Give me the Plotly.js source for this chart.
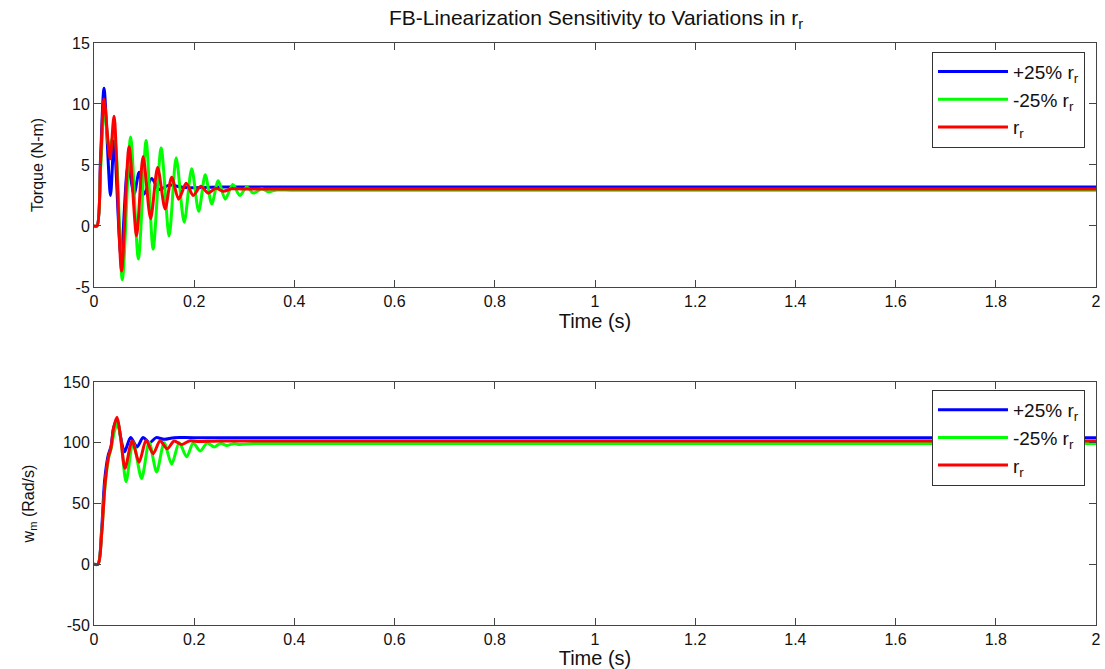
<!DOCTYPE html>
<html>
<head>
<meta charset="utf-8">
<script src="https://cdn.plot.ly/plotly-3.0.1.min.js"></script>
<style>
html,body{margin:0;padding:0;background:#fff;}
#chart{width:1105px;height:669px;}
</style>
</head>
<body>
<div id="chart"></div>
<script>
// ---- Torque (top panel) ----
var torquePlusT = [0,0.006,0.013,0.02,0.033,0.04,0.054,0.068,0.08,0.09,0.1,0.115,0.13,0.15,0.18,0.25,2];
var torquePlus  = [0,0,5.5,11.3,2.5,7,-2.5,5.0,2.6,4.4,2.6,3.9,3.0,3.35,3.15,3.2,3.2];

var torqueMinusT = [0,0.006,0.013,0.021,0.03,0.04,0.0565,0.073,0.0886,0.104,0.118,0.134,0.15,0.164,0.18,0.195,0.209,0.222,0.235,0.248,0.262,0.277,0.291,0.305,0.318,0.335,0.348,0.365,0.4,2];
var torqueMinus  = [0,0,4.5,9.8,6.5,7.5,-4.4,7.3,-2.7,7.0,-1.9,6.4,-0.8,5.6,0.3,4.7,1.2,4.2,1.8,3.7,2.2,3.4,2.5,3.2,2.7,3.05,2.8,2.95,2.92,2.92];

var torqueNomT = [0,0.006,0.013,0.02,0.032,0.04,0.055,0.07,0.085,0.098,0.113,0.127,0.142,0.155,0.169,0.184,0.198,0.213,0.228,0.243,0.258,0.275,0.3,2];
var torqueNom  = [0,0,5,10.4,5.5,9.0,-3.7,6.5,-0.8,5.7,0.6,4.8,1.4,4.0,2.2,3.5,2.5,3.25,2.7,3.1,2.85,3.05,3.03,3.03];

// ---- Speed (bottom panel) ----
var speedPlusT = [0,0.008,0.015,0.021,0.028,0.034,0.039,0.046,0.053,0.061,0.073,0.086,0.098,0.111,0.124,0.14,0.16,0.2,2];
var speedPlus  = [0,0,27,68,89,97,112,119,105,92.5,104.3,96.6,104.3,100,104.2,102.8,104.2,104.2,104.2];

var speedMinusT = [0,0.008,0.015,0.022,0.029,0.034,0.04,0.047,0.055,0.064,0.078,0.095,0.11,0.125,0.14,0.155,0.17,0.185,0.198,0.212,0.226,0.24,0.253,0.265,0.28,0.29,0.32,2];
var speedMinus  = [0,0,24,64,87,95,108,117,98,68,100.7,70.6,100.5,76,100,82.4,100,88.4,99.8,93.3,99.8,96.6,99.6,97.8,99.4,98.6,99.4,99.4];

var speedNomT = [0,0.008,0.0153,0.022,0.0287,0.034,0.039,0.046,0.053,0.062,0.076,0.09,0.104,0.118,0.132,0.146,0.16,0.175,0.19,0.21,0.25,2];
var speedNom  = [0,0,25,66,88,96,112,121,105,79,101.6,84,102,91,101.6,95,101.5,98.5,101.5,101,101.5,101.5];

// ---- Labels ----
var seriesNames = ['+25% r<sub>r</sub>', '-25% r<sub>r</sub>', 'r<sub>r</sub>'];
var seriesColors = ['#0000ff', '#00ff00', '#ff0000'];
var torqueTickVals = [-5, 0, 5, 10, 15];
var torqueTickText = ['-5', '0', '5', '10', '15'];
var speedTickVals = [-50, 0, 50, 100, 150];
var speedTickText = ['-50', '0', '50', '100', '150'];

function mk(x, y, i, xa, ya, leg) {
  return {
    x: x, y: y, type: 'scatter', mode: 'lines',
    name: seriesNames[i],
    line: {color: seriesColors[i], width: 3, shape: 'spline', smoothing: 0.8},
    xaxis: xa, yaxis: ya, legend: leg
  };
}

var traces = [
  mk(torquePlusT, torquePlus, 0, 'x', 'y', 'legend'),
  mk(torqueMinusT, torqueMinus, 1, 'x', 'y', 'legend'),
  mk(torqueNomT, torqueNom, 2, 'x', 'y', 'legend'),
  mk(speedPlusT, speedPlus, 0, 'x2', 'y2', 'legend2'),
  mk(speedMinusT, speedMinus, 1, 'x2', 'y2', 'legend2'),
  mk(speedNomT, speedNom, 2, 'x2', 'y2', 'legend2')
];

var fam = '"Liberation Sans", Arial, Helvetica, sans-serif';
var tickFont = {family: fam, size: 16, color: '#111'};
var axisCommon = {
  showgrid: false, zeroline: false, showline: true, linecolor: '#444', linewidth: 1,
  mirror: 'ticks', ticks: 'inside', ticklen: 7, tickcolor: '#444', tickfont: tickFont
};
function ax(extra) { return Object.assign({}, axisCommon, extra); }

var mainTitleFont = {family: fam, size: 21, color: '#111'};
var xTitleFont = {family: fam, size: 20, color: '#111'};
var yTitleFont = {family: fam, size: 16, color: '#111'};

var legendCommon = {
  xref: 'paper', yref: 'paper', xanchor: 'right', yanchor: 'top',
  bgcolor: '#fff', bordercolor: '#333', borderwidth: 1,
  font: {family: fam, size: 19, color: '#111'},
  itemwidth: 70, tracegroupgap: 0
};

var layout = {
  width: 1105, height: 669,
  margin: {l: 94, r: 9, t: 43, b: 44},
  paper_bgcolor: '#fff', plot_bgcolor: '#fff',
  showlegend: true,
  title: {text: 'FB-Linearization Sensitivity to Variations in r<sub>r</sub>', font: mainTitleFont,
          x: 0.5395, xanchor: 'center', y: 0.974, yanchor: 'middle'},
  xaxis: ax({domain: [0, 1], range: [0, 2], dtick: 0.2, anchor: 'y',
             title: {text: 'Time (s)', font: xTitleFont, standoff: 3}}),
  yaxis: ax({domain: [0.5808, 1], range: [-5, 15], tickvals: torqueTickVals, ticktext: torqueTickText, anchor: 'x',
             title: {text: 'Torque (N-m)', font: yTitleFont, standoff: 24}}),
  xaxis2: ax({domain: [0, 1], range: [0, 2], dtick: 0.2, anchor: 'y2',
              title: {text: 'Time (s)', font: xTitleFont, standoff: 3}}),
  yaxis2: ax({domain: [0, 0.4175], range: [-50, 150], tickvals: speedTickVals, ticktext: speedTickText, anchor: 'x2',
              title: {text: 'w<sub>m</sub> (Rad/s)', font: yTitleFont, standoff: 24}}),
  legend: Object.assign({}, legendCommon, {x: 0.989, y: 0.985}),
  legend2: Object.assign({}, legendCommon, {x: 0.989, y: 0.404})
};

Plotly.newPlot('chart', traces, layout, {displayModeBar: false, staticPlot: true});
</script>
</body>
</html>
